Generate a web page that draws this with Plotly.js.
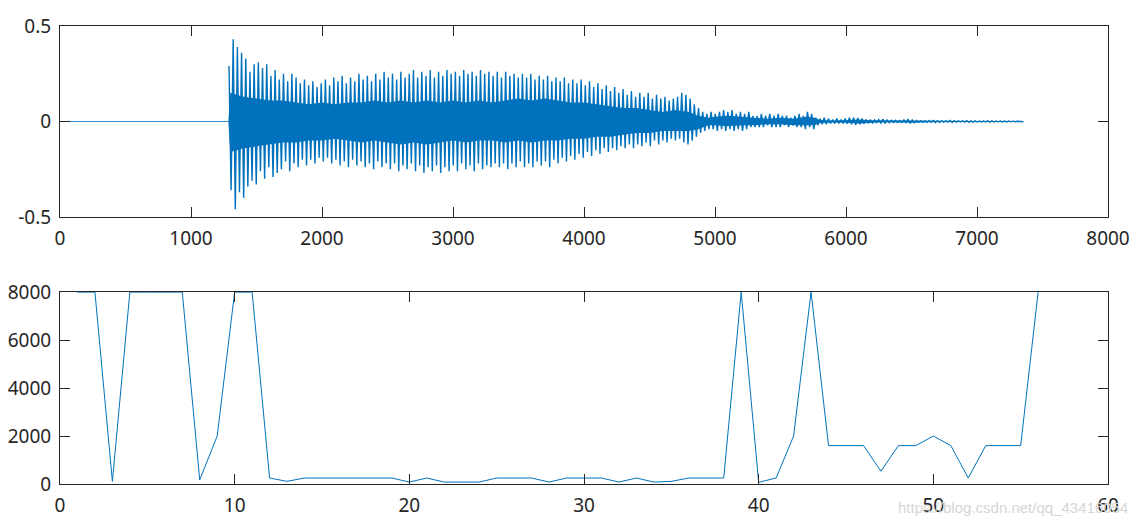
<!DOCTYPE html>
<html>
<head>
<meta charset="utf-8">
<script src="https://cdn.plot.ly/plotly-3.0.1.min.js"></script>
<style>
  html, body { margin: 0; padding: 0; background: #ffffff; }
  #chart { width: 1141px; height: 521px; }
</style>
</head>
<body>
<div id="chart"></div>
<script>
// ---------- Top panel: waveform (sample index vs amplitude) ----------
const onsetSample = 1290;      // first pitch period after silence
const periodStep = 16;         // half pitch period (samples) between successive extremes
const silenceT = [0, 1285];
const silenceY = [0, 0];

// positive extreme of each pitch period
const spikeTop = [
  0.29,0.43,0.39,0.36,0.33,0.26,0.30,0.31,0.28,0.30,
  0.24,0.27,0.22,0.25,0.21,0.25,0.23,0.20,0.22,0.19,
  0.21,0.18,0.20,0.22,0.19,0.23,0.21,0.24,0.20,0.23,
  0.21,0.25,0.22,0.24,0.21,0.25,0.22,0.26,0.23,0.25,
  0.22,0.26,0.23,0.25,0.27,0.23,0.26,0.24,0.27,0.23,
  0.26,0.24,0.27,0.25,0.26,0.24,0.27,0.25,0.26,0.24,
  0.27,0.25,0.26,0.24,0.26,0.23,0.26,0.24,0.25,0.23,
  0.25,0.23,0.25,0.22,0.24,0.22,0.24,0.21,0.23,0.21,
  0.23,0.20,0.22,0.20,0.22,0.19,0.21,0.18,0.20,0.17,
  0.19,0.16,0.18,0.15,0.17,0.14,0.16,0.13,0.15,0.13,
  0.15,0.12,0.14,0.12,0.13,0.11,0.12,0.13,0.15,0.14,
  0.12,0.09,0.07,0.05,0.04,0.05,0.04,0.05,0.06,0.05,
  0.06,0.04,0.05,0.04,0.05,0.03,0.03,0.04,0.03,0.04,
  0.03,0.04,0.03,0.03,0.02,0.03,0.04,0.03,0.05,0.04,
  0.02,0.015,0.02,0.015,0.01,0.015,0.01,0.015,0.02,0.02,
  0.018,0.015,0.01,0.008,0.008,0.01,0.012,0.008,0.006,0.006,
  0.005,0.008,0.012,0.008,0.005,0.005,
  0.004,0.005,0.006,0.004,0.004,0.003,0.006,0.004,0.003,0.003,
  0.005,0.004,0.003,0.003,0.002,0.004,0.003,0.002,0.002,0.003,
  0.002,0.002,0.001,0.001
];
// negative extreme of each pitch period
const spikeBot = [
  -0.36,-0.46,-0.37,-0.40,-0.34,-0.31,-0.33,-0.26,-0.30,-0.24,
  -0.29,-0.27,-0.25,-0.21,-0.26,-0.22,-0.24,-0.20,-0.23,-0.20,
  -0.22,-0.19,-0.21,-0.19,-0.22,-0.20,-0.23,-0.21,-0.24,-0.20,
  -0.23,-0.21,-0.24,-0.22,-0.25,-0.21,-0.24,-0.22,-0.25,-0.22,
  -0.26,-0.23,-0.25,-0.22,-0.26,-0.23,-0.27,-0.24,-0.26,-0.23,
  -0.27,-0.24,-0.26,-0.23,-0.26,-0.22,-0.25,-0.23,-0.26,-0.22,
  -0.25,-0.23,-0.24,-0.22,-0.24,-0.22,-0.25,-0.22,-0.24,-0.21,
  -0.24,-0.22,-0.24,-0.21,-0.23,-0.21,-0.24,-0.20,-0.22,-0.19,
  -0.21,-0.18,-0.20,-0.17,-0.19,-0.16,-0.18,-0.15,-0.17,-0.14,
  -0.16,-0.14,-0.15,-0.13,-0.14,-0.12,-0.14,-0.12,-0.13,-0.11,
  -0.13,-0.10,-0.12,-0.10,-0.11,-0.09,-0.10,-0.09,-0.11,-0.12,
  -0.10,-0.08,-0.06,-0.05,-0.04,-0.04,-0.05,-0.04,-0.05,-0.04,
  -0.05,-0.04,-0.05,-0.04,-0.03,-0.03,-0.03,-0.03,-0.02,-0.03,
  -0.03,-0.03,-0.02,-0.03,-0.02,-0.03,-0.03,-0.04,-0.03,-0.04,
  -0.02,-0.015,-0.015,-0.01,-0.01,-0.01,-0.01,-0.012,-0.015,-0.018,
  -0.015,-0.012,-0.008,-0.008,-0.006,-0.008,-0.01,-0.006,-0.005,-0.005,
  -0.005,-0.006,-0.01,-0.006,-0.004,-0.004,
  -0.004,-0.004,-0.005,-0.004,-0.003,-0.003,-0.005,-0.004,-0.003,-0.003,
  -0.004,-0.003,-0.003,-0.002,-0.002,-0.003,-0.003,-0.002,-0.002,-0.002,
  -0.002,-0.001,-0.001,-0.001
];

// dense core of the waveform (solid region)
const coreT  = [1285, 1300, 1350, 1400, 1500, 1600, 1700, 1800, 1900, 2000, 2100, 2200, 2300, 2400, 2500, 2600, 2700, 2800, 2900, 3000, 3100, 3200, 3300, 3400, 3500, 3600, 3700, 3800, 3900, 4000, 4100, 4200, 4300, 4400, 4500, 4600, 4700, 4800, 4870, 4950, 5000, 5100, 5200, 5300, 5400, 5500, 5600, 5700, 5760, 5800, 5900, 6000, 6100, 6200, 6300, 6500, 6700, 7000, 7340];
const coreUp = [0, 0.15, 0.14, 0.13, 0.12, 0.11, 0.11, 0.10, 0.09, 0.10, 0.09, 0.10, 0.10, 0.11, 0.10, 0.11, 0.10, 0.11, 0.10, 0.11, 0.10, 0.11, 0.10, 0.11, 0.12, 0.11, 0.12, 0.11, 0.10, 0.10, 0.09, 0.08, 0.07, 0.07, 0.06, 0.05, 0.06, 0.05, 0.03, 0.02, 0.025, 0.03, 0.025, 0.02, 0.015, 0.02, 0.015, 0.025, 0.02, 0.008, 0.005, 0.006, 0.01, 0.006, 0.005, 0.006, 0.004, 0.003, 0.001];
const coreLo = [0, -0.16, -0.15, -0.14, -0.13, -0.12, -0.11, -0.11, -0.10, -0.10, -0.09, -0.10, -0.11, -0.10, -0.11, -0.12, -0.11, -0.12, -0.11, -0.10, -0.11, -0.10, -0.10, -0.11, -0.10, -0.11, -0.10, -0.10, -0.09, -0.09, -0.08, -0.08, -0.07, -0.06, -0.06, -0.05, -0.05, -0.05, -0.04, -0.02, -0.02, -0.025, -0.02, -0.02, -0.015, -0.015, -0.02, -0.02, -0.02, -0.008, -0.005, -0.006, -0.01, -0.006, -0.004, -0.006, -0.003, -0.003, -0.001];

// ---------- Bottom panel: per-frame pitch estimate ----------
const frameIdx = [];
for (let i = 1; i <= 56; i++) frameIdx.push(i);
const pitch = [
  8000, 8000, 110, 8000, 8000, 8000, 8000, 170, 2000, 8000,
  8000, 250, 110, 250, 250, 250, 250, 250, 250, 80,
  250, 80, 80, 80, 250, 250, 250, 80, 250, 250,
  250, 80, 250, 80, 110, 250, 250, 250, 8000, 70,
  250, 2000, 8000, 1600, 1600, 1600, 533, 1600, 1600, 2000,
  1600, 250, 1600, 1600, 1600, 8000
];

const topXTicks = [0, 1000, 2000, 3000, 4000, 5000, 6000, 7000, 8000];
const topYTicks = [-0.5, 0, 0.5];
const topYText  = ['-0.5', '0', '0.5'];
const botXTicks = [0, 10, 20, 30, 40, 50, 60];
const botYTicks = [0, 2000, 4000, 6000, 8000];

const blue = '#0072BD';
const wave = [];
spikeTop.forEach((v, i) => { wave.push(v, spikeBot[i]); });

const traces = [
  { x: silenceT, y: silenceY, xaxis: 'x', yaxis: 'y', mode: 'lines',
    line: { color: blue, width: 0.8 }, hoverinfo: 'skip', showlegend: false },
  { x: coreT, y: coreUp, xaxis: 'x', yaxis: 'y', mode: 'lines',
    line: { color: blue, width: 0 }, hoverinfo: 'skip', showlegend: false },
  { x: coreT, y: coreLo, xaxis: 'x', yaxis: 'y', mode: 'lines', fill: 'tonexty',
    fillcolor: blue, line: { color: blue, width: 0 }, hoverinfo: 'skip', showlegend: false },
  { y: wave, x0: onsetSample, dx: periodStep, xaxis: 'x', yaxis: 'y', mode: 'lines',
    line: { color: blue, width: 1.4 }, showlegend: false },
  { x: frameIdx, y: pitch, xaxis: 'x2', yaxis: 'y2', mode: 'lines',
    line: { color: blue, width: 1 }, showlegend: false }
];

const fontSpec = { family: '"Noto Sans", "Open Sans", sans-serif', size: 19, color: '#262626' };
const axisCommon = {
  showline: true, linecolor: '#262626', linewidth: 1, mirror: 'ticks',
  ticks: 'inside', ticklen: 10, tickwidth: 1, tickcolor: '#262626',
  showgrid: false, zeroline: false, tickfont: fontSpec, fixedrange: true
};

const layout = {
  width: 1141, height: 521,
  margin: { l: 60, r: 33, t: 26, b: 37 },
  paper_bgcolor: '#ffffff', plot_bgcolor: '#ffffff',
  font: fontSpec,
  showlegend: false,
  xaxis: Object.assign({}, axisCommon, { domain: [0, 1], anchor: 'y', range: [0, 8000],
    tickvals: topXTicks, ticktext: topXTicks.map(String), ticklabelstandoff: 4 }),
  yaxis: Object.assign({}, axisCommon, { domain: [0.583, 1], anchor: 'x', range: [-0.5, 0.5],
    tickvals: topYTicks, ticktext: topYText, ticklabelstandoff: 4 }),
  xaxis2: Object.assign({}, axisCommon, { domain: [0, 1], anchor: 'y2', range: [0, 60],
    tickvals: botXTicks, ticktext: botXTicks.map(String), ticklabelstandoff: 4 }),
  yaxis2: Object.assign({}, axisCommon, { domain: [0, 0.419], anchor: 'x2', range: [0, 8000],
    tickvals: botYTicks, ticktext: botYTicks.map(String), ticklabelstandoff: 4 }),
  annotations: [{
    text: 'https://blog.csdn.net/qq_43416054', xref: 'paper', yref: 'paper',
    x: 1.021, y: -0.052, xanchor: 'right', yanchor: 'middle', showarrow: false,
    font: { family: 'Liberation Sans, Arial, sans-serif', size: 15, color: '#d6d6d6' }
  }]
};

Plotly.newPlot('chart', traces, layout, { staticPlot: true, displayModeBar: false });
</script>
</body>
</html>
